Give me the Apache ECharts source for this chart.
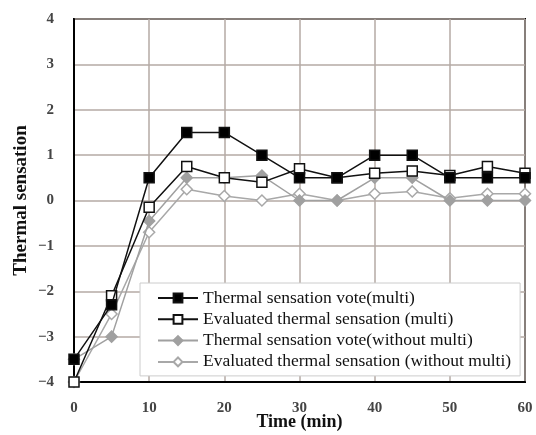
<!DOCTYPE html>
<html>
<head>
<meta charset="utf-8">
<script src="https://cdn.jsdelivr.net/npm/echarts@6/dist/echarts.min.js"></script>
<style>html,body{margin:0;padding:0;background:#fff;}#c{width:536px;height:435px;}</style>
</head>
<body>
<div id="c"></div>
<script>
var times = [0, 5, 10, 15, 20, 25, 30, 35, 40, 45, 50, 55, 60];
var tsvMulti = [-3.5, -2.3, 0.5, 1.5, 1.5, 1.0, 0.5, 0.5, 1.0, 1.0, 0.5, 0.5, 0.5];
var etsMulti = [-4, -2.1, -0.15, 0.75, 0.5, 0.4, 0.7, 0.5, 0.6, 0.65, 0.55, 0.75, 0.6];
var tsvWithout = [-3.5, -3.0, -0.45, 0.5, 0.5, 0.55, 0, 0, 0.5, 0.5, 0, 0, 0];
var etsWithout = [-4, -2.5, -0.7, 0.25, 0.1, 0, 0.15, 0, 0.15, 0.2, 0.05, 0.15, 0.15];
var names = ['Thermal sensation vote(multi)', 'Evaluated thermal sensation (multi)', 'Thermal sensation vote(without multi)', 'Evaluated thermal sensation (without multi)'];
var yTicks = [-4, -3, -2, -1, 0, 1, 2, 3, 4];
var xTicks = [0, 10, 20, 30, 40, 50, 60];

function pairs(v){ return times.map(function(t,i){ return [t, v[i]]; }); }
var font = 'Liberation Serif, Times New Roman, serif';
var chart = echarts.init(document.getElementById('c'));
function ser(name, data, color, symbol, fill, z){
  return {
    name: name, type: 'line', data: pairs(data), z: z,
    symbol: symbol, symbolSize: symbol === 'diamond' ? 11 : 10,
    lineStyle: {color: color, width: 1.5},
    itemStyle: {color: fill, borderColor: color, borderWidth: 1.5},
    animation: false
  };
}
chart.setOption({
  backgroundColor: '#fff',
  animation: false,
  grid: {left: 74, right: 11, top: 19, bottom: 53, containLabel: false, outerBoundsMode: 'none',
    show: true, borderColor: '#000', borderWidth: 2, backgroundColor: 'transparent'},
  xAxis: {
    type: 'value', min: xTicks[0], max: xTicks[xTicks.length-1], interval: 10,
    name: 'Time (min)', nameLocation: 'middle', nameGap: 31, nameMoveOverlap: false,
    nameTextStyle: {fontFamily: font, fontSize: 18, color: '#111', fontWeight: 'bold'},
    axisLine: {onZero: false, lineStyle: {color: '#000', width: 2}},
    axisTick: {show: false},
    axisLabel: {fontFamily: font, fontSize: 15, color: '#444', fontWeight: 'bold', margin: 19},
    splitLine: {show: true, lineStyle: {color: '#b5aaa5', width: 1.5}}
  },
  yAxis: {
    type: 'value', min: yTicks[0], max: yTicks[yTicks.length-1], interval: 1,
    name: 'Thermal sensation', nameLocation: 'middle', nameGap: 43, nameMoveOverlap: false,
    nameTextStyle: {fontFamily: font, fontSize: 19, color: '#111', fontWeight: 'bold'},
    axisLine: {show: true, onZero: false, lineStyle: {color: '#000', width: 2}},
    axisTick: {show: false},
    axisLabel: {fontFamily: font, fontSize: 15, color: '#444', fontWeight: 'bold', margin: 20,
      formatter: function(v){ return String(v).replace('-', '\u2212'); }},
    splitLine: {show: true, lineStyle: {color: '#b5aaa5', width: 1.5}}
  },
  legend: {
    orient: 'vertical', left: 140, top: 283,
    backgroundColor: '#fff', borderColor: '#ccc', borderWidth: 1,
    padding: [6, 9, 5, 17], itemGap: 3.3, itemWidth: 40, itemHeight: 11,
    textStyle: {fontFamily: font, fontSize: 17.5, lineHeight: 18, color: '#111'},
    data: names
  },
  series: [
    ser(names[3], etsWithout, '#a8a8a8', 'diamond', '#fff', 2),
    ser(names[2], tsvWithout, '#a0a0a0', 'diamond', '#a0a0a0', 3),
    ser(names[1], etsMulti, '#111', 'rect', '#fff', 4),
    ser(names[0], tsvMulti, '#111', 'rect', '#000', 5)
  ]
});
</script>
</body>
</html>
